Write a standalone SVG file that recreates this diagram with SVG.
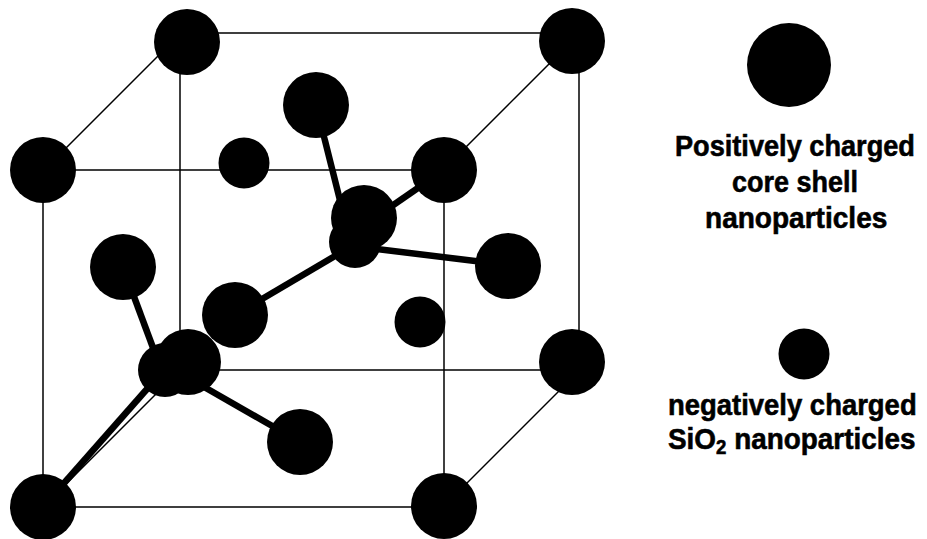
<svg xmlns="http://www.w3.org/2000/svg" width="927" height="539" viewBox="0 0 927 539">
  <style>
    .edge { stroke: #000; stroke-width: 1.5; fill: none; stroke-linecap: round; }
    .bond { stroke: #000; stroke-width: 6.5; fill: none; stroke-linecap: butt; }
    .big { fill: #000; }
    .small { fill: #000; }
    .label { font-family: "Liberation Sans", Arial, sans-serif; font-weight: bold; font-size: 30px; fill: #000; stroke: #000; stroke-width: 0.6; }
  </style>
  <rect width="927" height="539" fill="#fff"/>

  <!-- cube edges and bonds -->
  <g id="connectors">
    <!-- front face -->
    <line class="edge" x1="43" y1="170" x2="444" y2="170"/>
    <line class="edge" x1="43" y1="507" x2="444" y2="507"/>
    <line class="edge" x1="43" y1="170" x2="43" y2="507"/>
    <line class="edge" x1="444" y1="170" x2="444" y2="507"/>
    <!-- back face -->
    <line class="edge" x1="187" y1="33" x2="572" y2="33"/>
    <line class="edge" x1="180" y1="42" x2="180" y2="370"/>
    <line class="edge" x1="579" y1="40" x2="579" y2="362"/>
    <line class="edge" x1="180" y1="370" x2="572" y2="370"/>
    <!-- receding edges -->
    <line class="edge" x1="43" y1="171" x2="175" y2="39"/>
    <line class="edge" x1="444" y1="169" x2="572" y2="41"/>
    <line class="edge" x1="444" y1="506" x2="572" y2="378"/>
    <line class="edge" x1="43" y1="507" x2="180" y2="370"/>
    <!-- bonds of the upper tetrahedral site -->
    <line class="bond" x1="316" y1="105" x2="348" y2="232"/>
    <line class="bond" x1="360" y1="228" x2="444" y2="170"/>
    <line class="bond" x1="352" y1="246" x2="235" y2="315"/>
    <line class="bond" x1="352" y1="246" x2="508" y2="265"/>
    <!-- bonds of the lower tetrahedral site -->
    <line class="bond" x1="123" y1="267" x2="162" y2="372"/>
    <line class="bond" x1="178" y1="372" x2="300" y2="442"/>
    <line class="bond" x1="162" y1="372" x2="43" y2="507"/>
  </g>

  <!-- cube corners -->
  <g id="corner-back-top-left"><circle class="big" cx="187" cy="42" r="33"/></g>
  <g id="corner-back-top-right"><circle class="big" cx="572" cy="41" r="33"/></g>
  <g id="corner-front-top-left"><circle class="big" cx="43" cy="170" r="33"/></g>
  <g id="corner-front-top-right"><circle class="big" cx="444" cy="170" r="33"/></g>
  <g id="corner-back-bottom-right"><circle class="big" cx="572" cy="362" r="33"/></g>
  <g id="corner-front-bottom-left"><circle class="big" cx="43" cy="507" r="33"/></g>
  <g id="corner-front-bottom-right"><circle class="big" cx="444" cy="506" r="33"/></g>

  <!-- face and interior particles -->
  <g id="particle-a"><circle class="big" cx="316" cy="105" r="33"/></g>
  <g id="particle-b"><circle class="big" cx="123" cy="267" r="33"/></g>
  <g id="particle-c"><circle class="big" cx="235" cy="315" r="33"/></g>
  <g id="particle-d"><circle class="big" cx="508" cy="266" r="33"/></g>
  <g id="particle-e"><circle class="big" cx="300" cy="442" r="33"/></g>
  <g id="site-upper">
    <circle class="big" cx="364" cy="218" r="33"/>
    <circle class="big" cx="355" cy="242" r="26"/>
  </g>
  <g id="site-lower">
    <circle class="big" cx="188" cy="362" r="33"/>
    <circle class="big" cx="165" cy="370" r="27"/>
  </g>

  <!-- SiO2 particles -->
  <g id="silica-1"><circle class="small" cx="244" cy="163" r="25.5"/></g>
  <g id="silica-2"><circle class="small" cx="420" cy="322" r="25.5"/></g>

  <!-- legend -->
  <g id="legend-positive">
    <circle class="big" cx="789" cy="65" r="42"/>
    <text class="label" transform="translate(675 156) scale(0.905 1)">Positively charged</text>
    <text class="label" transform="translate(732 192) scale(0.9 1)">core shell</text>
    <text class="label" transform="translate(705 228) scale(0.935 1)">nanoparticles</text>
  </g>
  <g id="legend-negative">
    <circle class="small" cx="804" cy="354" r="25.5"/>
    <text class="label" transform="translate(668 415) scale(0.915 1)">negatively charged</text>
    <text class="label" transform="translate(668 449) scale(0.93 1)">SiO<tspan font-size="20" baseline-shift="-5">2</tspan> nanoparticles</text>
  </g>
</svg>
